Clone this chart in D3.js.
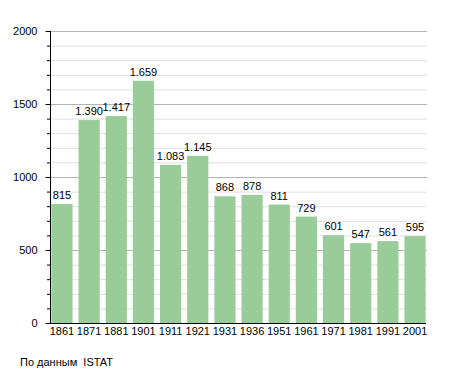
<!DOCTYPE html>
<html>
<head>
<meta charset="utf-8">
<script src="https://cdn.jsdelivr.net/npm/d3@7"></script>
<style>
  body { margin: 0; background: #fff; }
  text { font-family: "Liberation Sans", Arial, sans-serif; font-size: 11px; fill: #000; }
</style>
</head>
<body>
<div id="chart"></div>
<script>
const years = ['1861', '1871', '1881', '1901', '1911', '1921', '1931', '1936', '1951', '1961', '1971', '1981', '1991', '2001'];
const population = [815, 1390, 1417, 1659, 1083, 1145, 868, 878, 811, 729, 601, 547, 561, 595];
const yTicks = [0, 500, 1000, 1500, 2000];
const sourceNote = 'По данным  ISTAT';

let width = 455,
    height = 373,
    plotLeft = 50,
    plotRight = 427,
    plotTop = 31,
    plotBottom = 323;

const fmt = d => d3.format(',')(d).replace(/,/g, '.');

let x = d3.scaleBand()
    .domain(years)
    .range([plotLeft, plotRight])
    .paddingInner(0.22)
    .paddingOuter(0.05);

let y = d3.scaleLinear()
    .domain([0, 2000])
    .range([plotBottom, plotTop]);

const svg = d3.select('#chart')
    .append('svg')
        .attr('width', width)
        .attr('height', height);

// grid lines, every 100 with darker ones every 500
svg.append('g')
    .selectAll('line').data(d3.range(100, 2001, 100))
    .enter().append('line')
        .attr('x1', plotLeft)
        .attr('x2', plotRight)
        .attr('y1', d => y(d) + 0.5)
        .attr('y2', d => y(d) + 0.5)
        .style('stroke', d => d % 500 === 0 ? '#b4b4b4' : '#e0e0e0')
        .style('stroke-width', 1);

// bars
svg.append('g')
    .selectAll('rect').data(population)
    .enter().append('rect')
        .attr('x', (d, i) => x(years[i]))
        .attr('y', d => y(d))
        .attr('width', x.bandwidth())
        .attr('height', d => plotBottom - y(d))
        .style('fill', '#99cc99');

// value labels
svg.append('g')
    .selectAll('text').data(population)
    .enter().append('text')
        .attr('x', (d, i) => x(years[i]) + x.bandwidth() / 2)
        .attr('y', d => y(d) - 5)
        .attr('text-anchor', 'middle')
        .text(d => fmt(d));

// y axis
let yAxis = d3.axisLeft(y)
    .tickValues(yTicks)
    .tickSize(5)
    .tickPadding(8)
    .tickFormat(d3.format('d'));

const ya = svg.append('g')
    .attr('transform', 'translate(' + (plotLeft + 0.5) + ',0)')
    .call(yAxis);
ya.select('.domain').attr('d', 'M0,' + plotTop + 'V' + plotBottom);
ya.selectAll('text').style('font-family', '"Liberation Sans", Arial, sans-serif').style('font-size', '11px');

// minor ticks
svg.append('g')
    .selectAll('line').data(d3.range(100, 2000, 100).filter(d => d % 500 !== 0))
    .enter().append('line')
        .attr('x1', plotLeft - 3)
        .attr('x2', plotLeft)
        .attr('y1', d => y(d) + 0.5)
        .attr('y2', d => y(d) + 0.5)
        .style('stroke', '#000');

// x axis
svg.append('line')
    .attr('x1', plotLeft)
    .attr('x2', plotRight - 1)
    .attr('y1', plotBottom + 0.5)
    .attr('y2', plotBottom + 0.5)
    .style('stroke', '#000');

svg.append('g')
    .selectAll('text').data(years)
    .enter().append('text')
        .attr('x', d => x(d) + x.bandwidth() / 2)
        .attr('y', plotBottom + 12)
        .attr('text-anchor', 'middle')
        .text(d => d);

// source note
svg.append('text')
    .attr('x', 20)
    .attr('y', 366)
    .style('white-space', 'pre')
    .text(sourceNote);
</script>
</body>
</html>
